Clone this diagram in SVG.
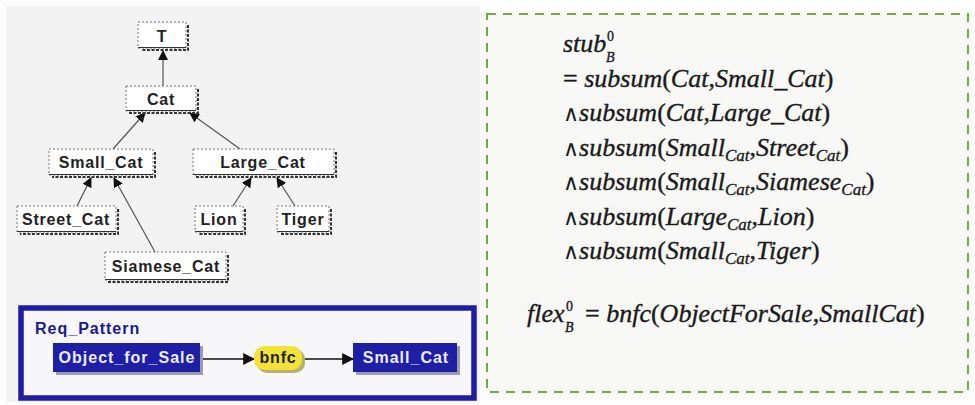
<svg xmlns="http://www.w3.org/2000/svg" width="975" height="405" viewBox="0 0 975 405">
  <defs>
    <marker id="tri" viewBox="0 0 10 10" refX="9" refY="5" markerWidth="10" markerHeight="10" markerUnits="userSpaceOnUse" orient="auto">
      <path d="M0,0 L10,5 L0,10 z" fill="#111"/>
    </marker>
    <marker id="tri2" viewBox="0 0 10 10" refX="9" refY="5" markerWidth="12" markerHeight="12" markerUnits="userSpaceOnUse" orient="auto">
      <path d="M0,0 L10,5 L0,10 z" fill="#111"/>
    </marker>
    <style>
      .box { fill: #ffffff; stroke: #777; stroke-width: 1; stroke-dasharray: 2 2; }
      .base { stroke: #333; stroke-width: 1.2; }
      .shd { fill: none; stroke: #333; stroke-width: 2; stroke-dasharray: 3 1.5; }
      .lbl { font-family: "Liberation Sans", Arial, sans-serif; font-weight: bold; font-size: 16px; letter-spacing: 0.8px; fill: #222; text-anchor: middle; }
      .edge { stroke: #555; stroke-width: 1.2; fill: none; marker-end: url(#tri); }
      .flow { stroke: #111; stroke-width: 1.6; fill: none; marker-end: url(#tri2); }
      .cls { fill: #1f1fa6; }
      .clsshd { fill: #9a9ab0; }
      .clslbl { font-family: "Liberation Sans", Arial, sans-serif; font-weight: bold; font-size: 16px; letter-spacing: 1px; fill: #ececff; text-anchor: middle; }
      .math { font-family: "Liberation Serif", "DejaVu Serif", serif; font-style: italic; font-size: 26px; fill: #1a1a1a; stroke: #1a1a1a; stroke-width: 0.35; }
      .up { font-style: normal; }
      .and { font-family: "DejaVu Serif", serif; font-style: normal; font-size: 22px; stroke-width: 0; }
      .sm { font-size: 17px; }
      .ix { font-size: 14px; }
    </style>
  </defs>

  <!-- backgrounds -->
  <rect x="0" y="0" width="975" height="405" fill="#fdfdfd"/>
  <rect x="6" y="6" width="474" height="396" fill="#f3f3f3"/>
  <rect x="487" y="14" width="481" height="378" fill="#f8f8f6" stroke="#6fae3c" stroke-width="2" stroke-dasharray="9 7"/>

  <!-- request pattern frame -->
  <g id="req-pattern">
    <rect x="21" y="308" width="453" height="90" fill="#f7f7fa" stroke="#1d1da6" stroke-width="5.5"/>
    <text x="35" y="334" font-family="Liberation Sans, Arial, sans-serif" font-weight="bold" font-size="16" letter-spacing="1" fill="#1a1a8c">Req_Pattern</text>
  </g>

  <!-- connectors -->
  <g id="connectors">
    <line class="edge" x1="163" y1="86" x2="163" y2="51"/>
    <line class="edge" x1="113" y1="149" x2="145" y2="113"/>
    <line class="edge" x1="240" y1="149" x2="190" y2="113"/>
    <line class="edge" x1="77" y1="206" x2="91" y2="178"/>
    <line class="edge" x1="155" y1="252" x2="114" y2="178"/>
    <line class="edge" x1="233" y1="206" x2="251" y2="178"/>
    <line class="edge" x1="295" y1="206" x2="277" y2="178"/>
    <line class="flow" x1="203" y1="359" x2="254" y2="359"/>
    <line class="flow" x1="304" y1="359" x2="353" y2="359"/>
  </g>

  <!-- taxonomy nodes -->
  <g id="node-T">
    <path class="shd" d="M188,25 V50 H141"/>
    <rect class="box" x="138" y="22" width="48" height="26"/>
    <line class="base" x1="138" y1="47.5" x2="186" y2="47.5"/>
    <text class="lbl" x="162" y="42">T</text>
  </g>
  <g id="node-Cat">
    <path class="shd" d="M198,89 V113 H129"/>
    <rect class="box" x="126" y="86" width="70" height="25"/>
    <line class="base" x1="126" y1="110.5" x2="196" y2="110.5"/>
    <text class="lbl" x="161" y="105">Cat</text>
  </g>
  <g id="node-Small_Cat">
    <path class="shd" d="M155,152 V177 H52"/>
    <rect class="box" x="49" y="149" width="104" height="26"/>
    <line class="base" x1="49" y1="174.5" x2="153" y2="174.5"/>
    <text class="lbl" x="101" y="168">Small_Cat</text>
  </g>
  <g id="node-Large_Cat">
    <path class="shd" d="M336,152 V177 H196"/>
    <rect class="box" x="193" y="149" width="141" height="26"/>
    <line class="base" x1="193" y1="174.5" x2="334" y2="174.5"/>
    <text class="lbl" x="263" y="168">Large_Cat</text>
  </g>
  <g id="node-Street_Cat">
    <path class="shd" d="M118,209 V234 H20"/>
    <rect class="box" x="17" y="206" width="99" height="26"/>
    <line class="base" x1="17" y1="231.5" x2="116" y2="231.5"/>
    <text class="lbl" x="66" y="225">Street_Cat</text>
  </g>
  <g id="node-Lion">
    <path class="shd" d="M245,209 V234 H198"/>
    <rect class="box" x="195" y="206" width="48" height="26"/>
    <line class="base" x1="195" y1="231.5" x2="243" y2="231.5"/>
    <text class="lbl" x="219" y="225">Lion</text>
  </g>
  <g id="node-Tiger">
    <path class="shd" d="M331,209 V234 H280"/>
    <rect class="box" x="277" y="206" width="52" height="26"/>
    <line class="base" x1="277" y1="231.5" x2="329" y2="231.5"/>
    <text class="lbl" x="303" y="225">Tiger</text>
  </g>
  <g id="node-Siamese_Cat">
    <path class="shd" d="M228,255 V282 H108"/>
    <rect class="box" x="105" y="252" width="121" height="28"/>
    <line class="base" x1="105" y1="279.5" x2="226" y2="279.5"/>
    <text class="lbl" x="166" y="272">Siamese_Cat</text>
  </g>

  <!-- request pattern nodes -->
  <g id="node-Object_for_Sale">
    <rect class="clsshd" x="56" y="346" width="147" height="29"/>
    <rect class="cls" x="53" y="343" width="147" height="29"/>
    <text class="clslbl" x="127" y="363">Object_for_Sale</text>
  </g>
  <g id="node-bnfc">
    <rect x="257" y="349" width="48" height="24" rx="10" fill="#b8b070"/>
    <rect x="254" y="346" width="48" height="24" rx="10" fill="#f3e23a"/>
    <text class="lbl" x="278" y="363" letter-spacing="1">bnfc</text>
  </g>
  <g id="node-Small_Cat-req">
    <rect class="clsshd" x="356" y="346" width="104" height="29"/>
    <rect class="cls" x="353" y="343" width="104" height="29"/>
    <text class="clslbl" x="406" y="363">Small_Cat</text>
  </g>

  <!-- formulas -->
  <g id="formulas" class="math">
    <text x="563" y="52">stub</text>
    <text x="607" y="41" class="ix up">0</text>
    <text x="606" y="62" class="ix">B</text>
    <text x="563" y="87"><tspan class="up">= </tspan>subsum<tspan class="up">(</tspan>Cat<tspan class="up">,</tspan>Small_Cat<tspan class="up">)</tspan></text>
    <text x="563" y="121"><tspan class="and">∧</tspan>subsum<tspan class="up">(</tspan>Cat<tspan class="up">,</tspan>Large_Cat<tspan class="up">)</tspan></text>
    <text x="563" y="156"><tspan class="and">∧</tspan>subsum<tspan class="up">(</tspan>Small<tspan class="sm" dy="5">Cat</tspan><tspan class="up" dy="-5">,</tspan>Street<tspan class="sm" dy="5">Cat</tspan><tspan class="up" dy="-5">)</tspan></text>
    <text x="563" y="190"><tspan class="and">∧</tspan>subsum<tspan class="up">(</tspan>Small<tspan class="sm" dy="5">Cat</tspan><tspan class="up" dy="-5">,</tspan>Siamese<tspan class="sm" dy="5">Cat</tspan><tspan class="up" dy="-5">)</tspan></text>
    <text x="563" y="225"><tspan class="and">∧</tspan>subsum<tspan class="up">(</tspan>Large<tspan class="sm" dy="5">Cat</tspan><tspan class="up" dy="-5">,</tspan>Lion<tspan class="up">)</tspan></text>
    <text x="563" y="259"><tspan class="and">∧</tspan>subsum<tspan class="up">(</tspan>Small<tspan class="sm" dy="5">Cat</tspan><tspan class="up" dy="-5">,</tspan>Tiger<tspan class="up">)</tspan></text>
    <text x="527" y="322">flex</text>
    <text x="566" y="311" class="ix up">0</text>
    <text x="565" y="332" class="ix">B</text>
    <text x="585" y="322"><tspan class="up">= </tspan>bnfc<tspan class="up">(</tspan>ObjectForSale<tspan class="up">,</tspan>SmallCat<tspan class="up">)</tspan></text>
  </g>
</svg>
